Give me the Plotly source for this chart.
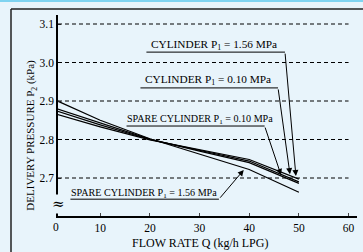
import plotly.graph_objects as go

# ---- data ----
flow_q = [0, 10, 20, 30, 40, 50]
spare_156 = [2.908, 2.850, 2.802, 2.762, 2.722, 2.663]
cyl_156 = [2.885, 2.842, 2.801, 2.770, 2.740, 2.686]
cyl_010 = [2.879, 2.838, 2.800, 2.772, 2.744, 2.690]
spare_010 = [2.870, 2.833, 2.799, 2.774, 2.748, 2.697]

x_ticks = [10, 20, 30, 40, 50, 60]
y_ticks = [2.7, 2.8, 2.9, 3.0, 3.1]

series = [
    ("SPARE CYLINDER P<sub>1</sub> = 1.56 MPa", spare_156),
    ("CYLINDER P<sub>1</sub> = 1.56 MPa", cyl_156),
    ("CYLINDER P<sub>1</sub> = 0.10 MPa", cyl_010),
    ("SPARE CYLINDER P<sub>1</sub> = 0.10 MPa", spare_010),
]

# label: (text, font size, text_x, text_y, underline_x0, underline_x1, underline_y, arrow_x, arrow_y)
labels = [
    ("CYLINDER P<sub>1</sub> = 1.56 MPa", 11.3, 32.96, 3.045, 19.3, 47.2, 3.027, 49.4, 2.705),
    ("CYLINDER P<sub>1</sub> = 0.10 MPa", 11.3, 31.65, 2.955, 18.1, 45.8, 2.934, 48.2, 2.710),
    ("SPARE CYLINDER P<sub>1</sub> = 0.10 MPa", 10.1, 30.1, 2.853, 15.3, 43.1, 2.835, 46.4, 2.708),
    ("SPARE CYLINDER P<sub>1</sub> = 1.56 MPa", 10.1, 18.85, 2.661, 4.0, 33.9, 2.645, 38.9, 2.721),
]

BG = "#e8f4fb"
FONT = "Liberation Serif"

fig = go.Figure()
for name, vals in series:
    fig.add_trace(go.Scatter(x=flow_q, y=vals, mode="lines", name=name,
                             line=dict(color="black", width=1.2), showlegend=False))

shapes = []
# dashed gridlines
for yv in y_ticks:
    shapes.append(dict(type="line", xref="x", yref="y", x0=1.5, x1=60, y0=yv, y1=yv,
                       line=dict(color="black", width=1, dash="4px,3px")))
# frame (top + left) and top strip
shapes.append(dict(type="line", xref="paper", yref="paper", x0=-47/299, x1=1.1,
                   y0=1 + 6/201, y1=1 + 6/201, line=dict(color="#222", width=1.5)))
shapes.append(dict(type="line", xref="paper", yref="paper", x0=-47/299, x1=-47/299,
                   y0=1 + 6/201, y1=-0.3, line=dict(color="#222", width=1.5)))
shapes.append(dict(type="rect", xref="paper", yref="paper", x0=-0.3, x1=1.1,
                   y0=1 + 13/201, y1=1 + 16/201, line=dict(width=0), fillcolor="#7fd3f0"))

annotations = []
for text, fs, tx, ty, ux0, ux1, uy, axp, ayp in labels:
    annotations.append(dict(x=tx, y=ty, xref="x", yref="y", text=text, showarrow=False,
                            font=dict(family=FONT, size=fs, color="black")))
    shapes.append(dict(type="line", xref="x", yref="y", x0=ux0, x1=ux1, y0=uy, y1=uy,
                       line=dict(color="black", width=1)))
    annotations.append(dict(x=axp, y=ayp, xref="x", yref="y", ax=ux1, ay=uy,
                            axref="x", ayref="y", text="", showarrow=True,
                            arrowhead=2, arrowsize=1.2, arrowwidth=1, arrowcolor="black"))

# "0" tick label (outside the axis range) and axis break symbol
annotations.append(dict(x=-1.5 / 60.2, y=0, xref="paper", yref="paper", yanchor="top", yshift=-3,
                        text="0", showarrow=False, font=dict(family=FONT, size=11.5, color="black")))
annotations.append(dict(x=1.5, y=2.632, xref="x", yref="y", text="≈", showarrow=False,
                        bgcolor=BG, borderpad=0,
                        font=dict(family="DejaVu Serif", size=15, color="black")))
# axis titles
annotations.append(dict(x=30.0, y=0, xref="x", yref="paper", yanchor="top", yshift=-18,
                        text="FLOW RATE Q (kg/h LPG)", showarrow=False,
                        font=dict(family=FONT, size=12, color="black")))
annotations.append(dict(x=-27/299, y=2.81, xref="paper", yref="y", textangle=-90,
                        xanchor="center",
                        text="DELIVERY PRESSURE P<sub>2</sub> (kPa)", showarrow=False,
                        font=dict(family=FONT, size=11, color="black")))

fig.update_layout(
    width=363, height=252,
    margin=dict(l=58, r=6, t=15, b=36),
    paper_bgcolor=BG, plot_bgcolor=BG,
    shapes=shapes, annotations=annotations,
    font=dict(family=FONT, size=11, color="black"),
    xaxis=dict(range=[1.5, 61.7], tickvals=x_ticks, ticks="inside", ticklen=3,
               showgrid=False, zeroline=False, showline=True, linecolor="black",
               linewidth=1.5, tickfont=dict(family=FONT, size=11.5)),
    yaxis=dict(range=[2.6013, 3.1234], tickvals=y_ticks, ticktext=["2.7", "2.8", "2.9", "3.0", "3.1"],
               ticks="inside", ticklen=3, showgrid=False, zeroline=False, showline=True,
               linecolor="black", linewidth=1.5, tickfont=dict(family=FONT, size=11.5)),
)

fig.write_html("out.html", config={"displayModeBar": False},
               post_script="document.body.style.margin='0';document.body.style.overflow='hidden';")
